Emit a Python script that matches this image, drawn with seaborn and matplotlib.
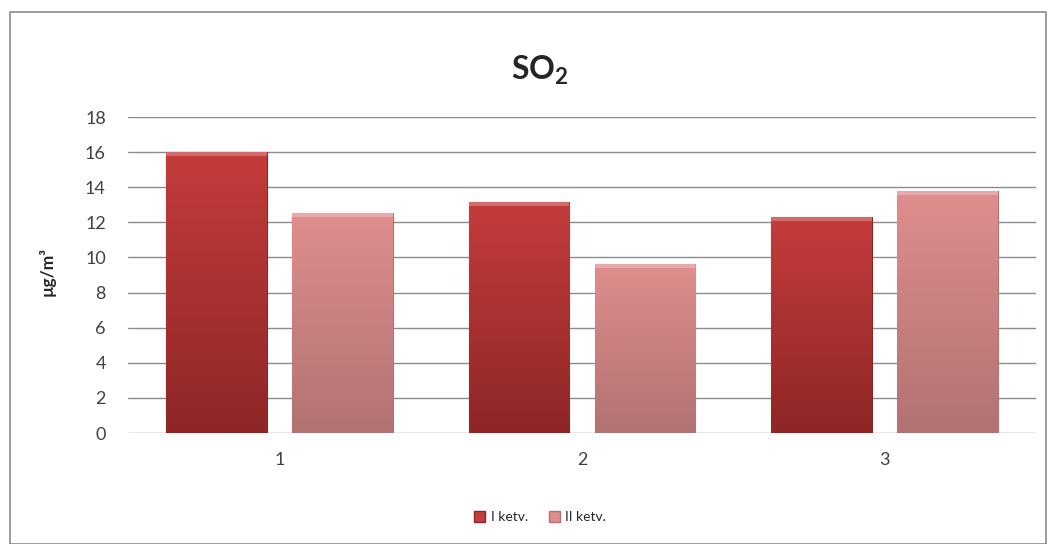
import numpy as np
import pandas as pd
import matplotlib
matplotlib.use("Agg")
import matplotlib.pyplot as plt
from matplotlib.patches import Rectangle
from matplotlib.colors import LinearSegmentedColormap
import seaborn as sns

categories = ["1", "2", "3"]
series_names = ["I ketv.", "II ketv."]
values_I = [16.0, 13.15, 12.3]
values_II = [12.55, 9.6, 13.8]
y_ticks = [0, 2, 4, 6, 8, 10, 12, 14, 16, 18]

df = pd.DataFrame({
    "cat": categories * 2,
    "series": [series_names[0]] * 3 + [series_names[1]] * 3,
    "value": values_I + values_II,
})

sns.set_theme(style="white")
plt.rcParams["font.family"] = ["Lato", "DejaVu Sans"]
plt.rcParams["mathtext.fontset"] = "custom"
plt.rcParams["mathtext.rm"] = "Lato"
plt.rcParams["mathtext.bf"] = "Lato:bold"

fig = plt.figure(figsize=(10.48, 5.44), dpi=100)
ax = fig.add_axes([128 / 1048, 111 / 544, 908 / 1048, 316 / 544])

top_cols = {"I ketv.": "#C43C3C", "II ketv.": "#E08E8E"}
bot_cols = {"I ketv.": "#8E2626", "II ketv.": "#B27272"}

sns.barplot(data=df, x="cat", y="value", hue="series", order=categories,
            hue_order=series_names, palette=top_cols, width=0.832, gap=0.2,
            ax=ax, legend=False, zorder=3)

ax.set_ylim(0, 18)
ax.set_xlim(-0.5, 2.5)
ax.set_yticks(y_ticks)
ax.yaxis.grid(True, color="#8c8c8c", linewidth=1.0, zorder=0)
ax.set_axisbelow(True)
for s in ax.spines.values():
    s.set_visible(False)
ax.tick_params(axis="y", length=0, pad=16, labelsize=13, labelcolor="#404040")
ax.tick_params(axis="x", length=0, pad=14, labelsize=13, labelcolor="#404040")
ax.set_xlabel("")
ax.set_ylabel("")
fig.text(47 / 1048, 1 - 272 / 544, "µg/m³", rotation=90, fontsize=12.5,
         fontweight="bold", ha="center", va="center")

# gradient fills
patches = list(ax.patches)
order = [s for s in series_names for _ in categories]
for p, sname in zip(patches, order):
    cmap = LinearSegmentedColormap.from_list("g", [bot_cols[sname], top_cols[sname]])
    x0, y0 = p.get_x(), p.get_y()
    w, h = p.get_width(), p.get_height()
    grad = np.linspace(0, 1, 256).reshape(-1, 1)
    im = ax.imshow(grad, extent=[x0, x0 + w, y0, y0 + h], origin="lower",
                   aspect="auto", cmap=cmap, zorder=3.5)
    im.set_clip_path(p)
    p.set_edgecolor(bot_cols[sname])
    p.set_linewidth(0.8)
    ax.add_patch(Rectangle((x0, y0 + h - 0.22), w, 0.22, facecolor="white",
                           alpha=0.25, edgecolor="none", zorder=4))
ax.set_xlim(-0.5, 2.5)
ax.set_ylim(0, 18)

fig.text(540 / 1048, 1 - 70 / 544, r"$\mathbf{SO_2}$", fontsize=23,
         ha="center", va="center")

handles = [Rectangle((0, 0), 1, 1, facecolor=top_cols[s], edgecolor=bot_cols[s]) for s in series_names]
fig.legend(handles, series_names, loc="center", bbox_to_anchor=(540 / 1048, 1 - 517 / 544),
           ncol=2, frameon=False, fontsize=10, handlelength=0.8, handleheight=0.8,
           handletextpad=0.4, columnspacing=1.5)

fig.patches.append(Rectangle((10 / 1048, 0), 1036 / 1048, 532 / 544, transform=fig.transFigure,
                             fill=False, edgecolor="#8c8c8c", linewidth=1.2))

fig.savefig("out.png", dpi=100)
